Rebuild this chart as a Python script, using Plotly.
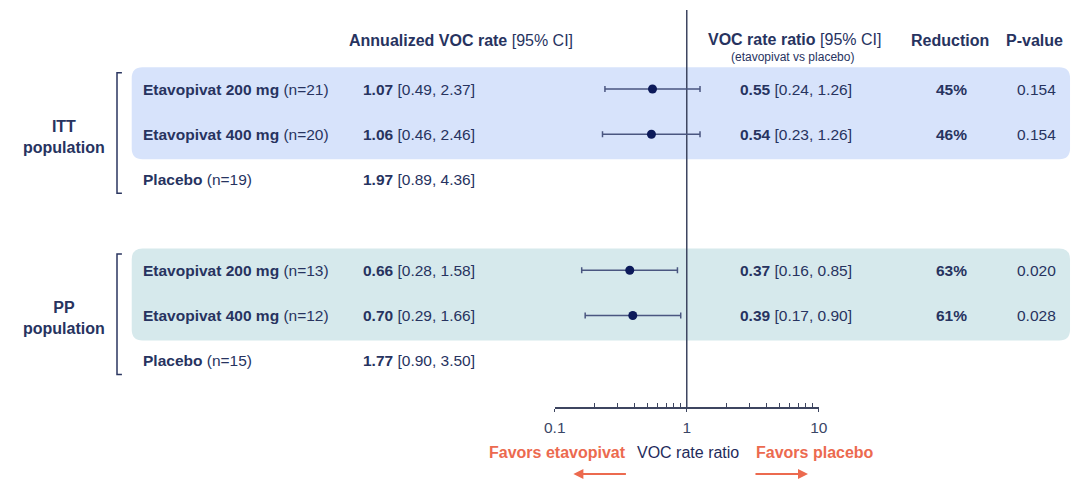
import plotly.graph_objects as go

# ---- data -------------------------------------------------------------
groups = ["ITT<br>population", "PP<br>population"]
group_rows = [[0, 1, 2], [4, 5, 6]]

arms = ["Etavopivat 200 mg", "Etavopivat 400 mg", "Placebo",
        "Etavopivat 200 mg", "Etavopivat 400 mg", "Placebo"]
arm_n = ["(n=21)", "(n=20)", "(n=19)", "(n=13)", "(n=12)", "(n=15)"]
row_pos = [0, 1, 2, 4, 5, 6]

rate_est = [1.07, 1.06, 1.97, 0.66, 0.70, 1.77]
rate_lo = [0.49, 0.46, 0.89, 0.28, 0.29, 0.90]
rate_hi = [2.37, 2.46, 4.36, 1.58, 1.66, 3.50]

ratio_rows = [0, 1, 4, 5]
ratio_est = [0.55, 0.54, 0.37, 0.39]
ratio_lo = [0.24, 0.23, 0.16, 0.17]
ratio_hi = [1.26, 1.26, 0.85, 0.90]
reduction = ["45%", "46%", "63%", "61%"]
p_values = ["0.154", "0.154", "0.020", "0.028"]

major_ticks = [0.1, 1, 10]
major_labels = ["0.1", "1", "10"]
minor_ticks = [0.2, 0.3, 0.4, 0.5, 0.6, 0.7, 0.8, 0.9,
               2, 3, 4, 5, 6, 7, 8, 9]

# ---- layout geometry ----------------------------------------------------
W, H = 1081, 481
ROW0_PX, ROW_STEP = 89.0, 45.3     # pixel centre of first row, row spacing
AXIS_PX = 407.0                     # pixel height of the ratio axis line
X_LO_PX, X_HI_PX = 554.0, 823.0     # pixel extent of the 0.1 .. 10 axis


def px_x(p):
    return p / W


def px_y(p):
    return 1 - p / H


def row_from_px(p):
    return (p - ROW0_PX) / ROW_STEP


FONT = "Liberation Sans, Arial, sans-serif"
NAVY = "#1f2b5b"
TEXT = "#27335f"
ORANGE = "#ec6a4f"
BAND_COLORS = ["#d7e3fb", "#d6e9ec"]
ROW_SIZE = 15.5
HEAD_SIZE = 16

fig = go.Figure()

# point estimates with 95% CI on the log ratio axis
fig.add_trace(go.Scatter(
    x=ratio_est,
    y=ratio_rows,
    mode="markers",
    marker=dict(size=9, color="#0c1a5a"),
    error_x=dict(
        type="data",
        symmetric=False,
        array=[h - e for h, e in zip(ratio_hi, ratio_est)],
        arrayminus=[e - l for e, l in zip(ratio_est, ratio_lo)],
        color="#4a5680",
        thickness=1.5,
        width=3,
    ),
    cliponaxis=False,
    hoverinfo="skip",
    showlegend=False,
))

shapes = []
annotations = []

# rounded highlight bands behind the active-arm rows
r_px = 11
for k, rows in enumerate(group_rows):
    top = rows[0] - 0.48
    bot = rows[1] + 0.55
    x0, x1 = px_x(123), px_x(1079)
    rx = r_px / W
    ry = r_px / ROW_STEP
    path = (f"M {x0 + rx},{top} L {x1 - rx},{top} Q {x1},{top} {x1},{top + ry} "
            f"L {x1},{bot - ry} Q {x1},{bot} {x1 - rx},{bot} "
            f"L {x0 + rx},{bot} Q {x0},{bot} {x0},{bot - ry} "
            f"L {x0},{top + ry} Q {x0},{top} {x0 + rx},{top} Z")
    shapes.append(dict(type="path", path=path, xref="paper", yref="y",
                       fillcolor=BAND_COLORS[k], line=dict(width=0),
                       layer="below"))

# group brackets
for rows in group_rows:
    top = rows[0] - 0.36
    bot = rows[-1] + 0.3
    bx = px_x(108)
    sx = px_x(113)
    shapes.append(dict(type="path",
                       path=f"M {sx},{top} L {bx},{top} L {bx},{bot} L {sx},{bot}",
                       xref="paper", yref="y",
                       line=dict(color="#2b3660", width=1.5)))

# line of no effect
shapes.append(dict(type="line", xref="x", yref="paper",
                   x0=1, x1=1, y0=px_y(AXIS_PX), y1=px_y(10),
                   line=dict(color="#3d4560", width=1.5), layer="below"))


def add_text(text, x_px, y, size=ROW_SIZE, anchor="left", color=TEXT, yref="y"):
    annotations.append(dict(
        text=text, x=px_x(x_px), y=y, xref="paper", yref=yref,
        xanchor=anchor, yanchor="middle", showarrow=False, borderpad=0,
        font=dict(family=FONT, size=size, color=color)))


# column headers
add_text("<b>Annualized VOC rate</b> [95% CI]", 343, px_y(40), HEAD_SIZE, yref="paper")
add_text("<b>VOC rate ratio</b> [95% CI]", 798, px_y(39), HEAD_SIZE, "center", yref="paper")
add_text("(etavopivat vs placebo)", 796, px_y(57), 12, "center", yref="paper")
add_text("<b>Reduction</b>", 957, px_y(40), HEAD_SIZE, "center", yref="paper")
add_text("<b>P-value</b>", 1043, px_y(40), HEAD_SIZE, "center", yref="paper")

# group labels
for g, rows in zip(groups, group_rows):
    add_text(f"<b>{g}</b>", 54, rows[1] + 0.05, 16, "center")

# arm rows
for arm, n, pos, e, lo, hi in zip(arms, arm_n, row_pos, rate_est, rate_lo, rate_hi):
    add_text(f"<b>{arm}</b> {n}", 133, pos)
    add_text(f"<b>{e:.2f}</b> [{lo:.2f}, {hi:.2f}]", 358, pos)

for pos, e, lo, hi, red, p in zip(ratio_rows, ratio_est, ratio_lo, ratio_hi,
                                  reduction, p_values):
    add_text(f"<b>{e:.2f}</b> [{lo:.2f}, {hi:.2f}]", 742, pos)
    add_text(f"<b>{red}</b>", 958, pos, ROW_SIZE, "center")
    add_text(p, 1045, pos, ROW_SIZE, "center")

# footer: direction labels and arrows
add_text("<b>Favors etavopivat</b>", 557, px_y(452), 16, "center", ORANGE, "paper")
add_text("VOC rate ratio", 690, px_y(452), 16, "center", NAVY, "paper")
add_text("<b>Favors placebo</b>", 819, px_y(452), 16, "center", ORANGE, "paper")
for head_px, tail_dx in [(573, 54), (812, -54)]:
    annotations.append(dict(
        x=px_x(head_px), y=px_y(474), xref="paper", yref="paper",
        ax=tail_dx, ay=0, text="", showarrow=True,
        arrowhead=2, arrowsize=1, arrowwidth=2, arrowcolor=ORANGE))

fig.update_layout(
    width=W, height=H, autosize=False,
    margin=dict(l=0, r=0, t=0, b=0),
    paper_bgcolor="white",
    plot_bgcolor="rgba(0,0,0,0)",
    showlegend=False,
    shapes=shapes,
    annotations=annotations,
    xaxis=dict(
        type="log",
        range=[-1, 1],
        domain=[px_x(X_LO_PX), px_x(X_HI_PX)],
        showgrid=False, zeroline=False,
        showline=True, linecolor="#3d4560", linewidth=1.5,
        tickvals=major_ticks, ticktext=major_labels,
        ticks="outside", ticklen=3, tickwidth=1.2, tickcolor="#3d4560",
        minor=dict(tickvals=minor_ticks, ticks="inside", ticklen=4,
                   tickwidth=1.2, tickcolor="#3d4560", showgrid=False),
        tickfont=dict(family=FONT, size=15.5, color="#3a4666"),
        ticklabelstandoff=3,
        fixedrange=True,
    ),
    yaxis=dict(
        domain=[1 - AXIS_PX / H, 1],
        range=[row_from_px(AXIS_PX), row_from_px(0)],
        visible=False,
        fixedrange=True,
    ),
)

# page without body margin so the figure fills the window exactly
fig.write_html(
    "out.html",
    config={"responsive": False, "displayModeBar": False},
    post_script="document.body.style.margin='0';document.body.style.overflow='hidden';",
)
